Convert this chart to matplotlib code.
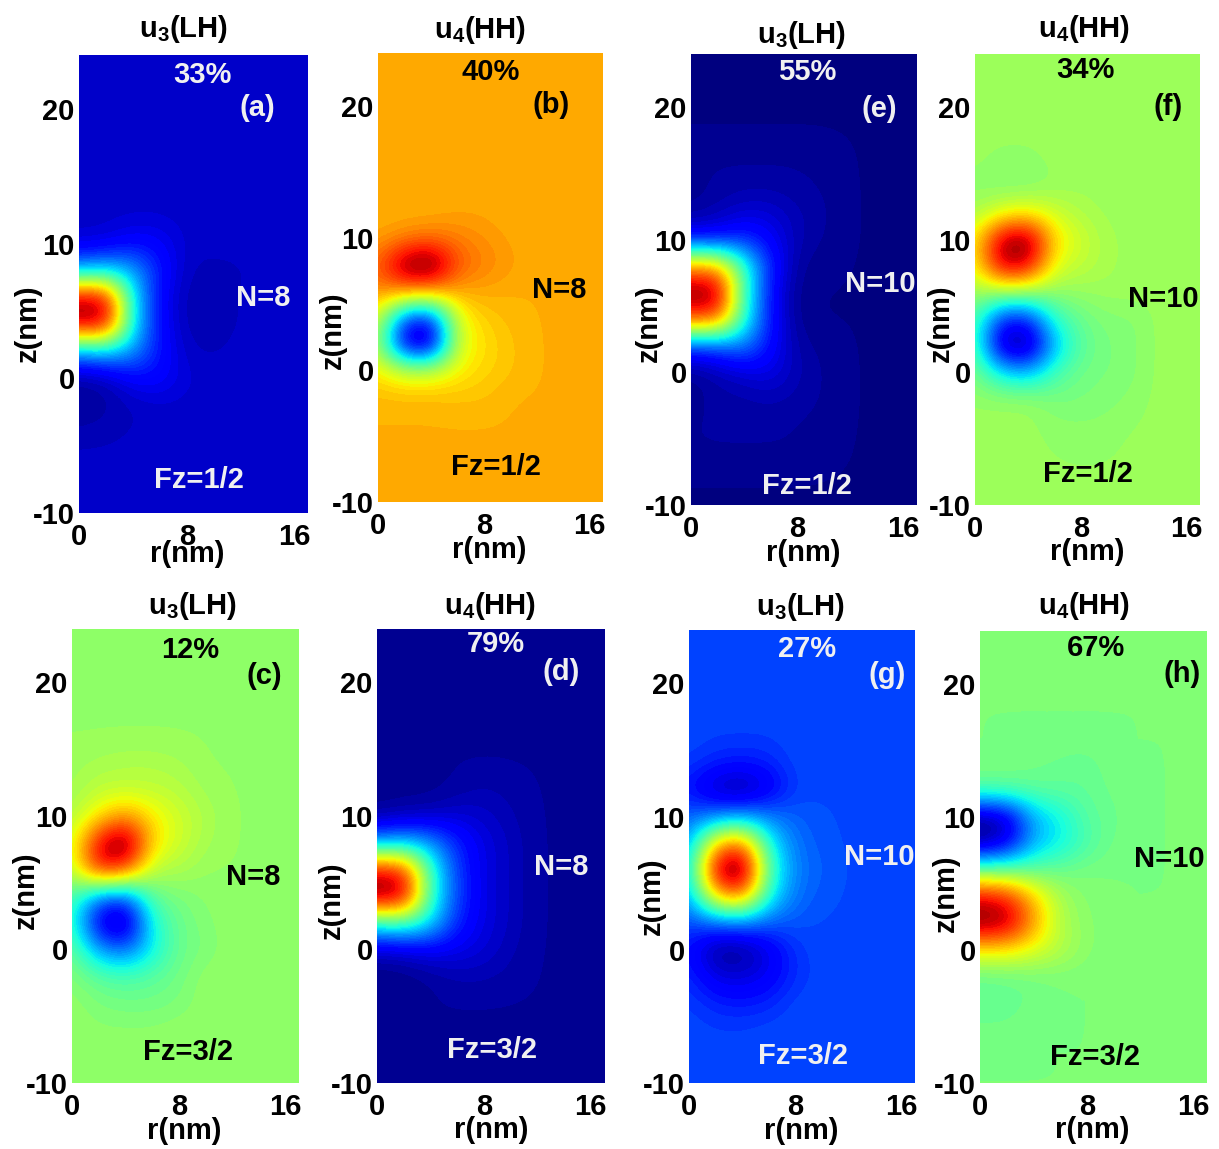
import numpy as np
import matplotlib
matplotlib.use("Agg")
import matplotlib.pyplot as plt

plt.rcParams['font.family'] = ['Liberation Sans', 'DejaVu Sans']
plt.rcParams['font.weight'] = 'bold'
plt.rcParams['mathtext.fontset'] = 'custom'
plt.rcParams['mathtext.bf'] = 'Liberation Sans:bold'
plt.rcParams['mathtext.rm'] = 'Liberation Sans:bold'
plt.rcParams['mathtext.default'] = 'bf'
plt.rcParams['axes.unicode_minus'] = False

W, H = 1219, 1149

r_values = [0, 2, 4, 6, 8, 10, 12]
z_values = [16, 14, 12, 10, 8, 6, 4, 2, 0, -2, -4, -6]
r_ticks = [0, 8, 16]
z_ticks = [-10, 0, 10, 20]

bg_a = 0.07
u_a = [
 [.07,.07,.07,.07,.07,.07,.07],
 [.07,.07,.07,.07,.07,.07,.07],
 [.07,.07,.075,.075,.07,.07,.07],
 [.08,.09,.13,.12,.07,.07,.07],
 [.30,.34,.30,.15,.06,.055,.06],
 [.95,.95,.36,.12,.05,.05,.065],
 [.95,.95,.36,.13,.05,.05,.065],
 [.28,.32,.28,.14,.065,.06,.07],
 [.03,.05,.12,.13,.08,.07,.07],
 [.03,.04,.06,.07,.07,.07,.07],
 [.05,.055,.065,.07,.07,.07,.07],
 [.07,.07,.07,.07,.07,.07,.07],
]
bg_b = 0.72
u_b = [
 [.72,.72,.72,.72,.72,.72,.72],
 [.72,.72,.72,.72,.72,.72,.72],
 [.72,.72,.72,.73,.73,.72,.72],
 [.73,.76,.78,.77,.75,.73,.72],
 [.80,1.0,1.05,.82,.77,.74,.72],
 [.76,.78,.76,.73,.73,.72,.72],
 [.62,.20,.15,.62,.69,.71,.72],
 [.55,.05,.0,.60,.67,.70,.72],
 [.66,.58,.58,.65,.68,.70,.72],
 [.71,.71,.71,.70,.70,.72,.72],
 [.72,.72,.72,.72,.72,.72,.72],
 [.72,.72,.72,.72,.72,.72,.72],
]
bg_e = 0.015
u_e = [
 [.03,.03,.03,.03,.03,.025,.015],
 [.02,.035,.04,.04,.035,.03,.015],
 [.03,.05,.08,.08,.05,.035,.015],
 [.14,.14,.18,.12,.05,.03,.015],
 [.75,.75,.42,.16,.03,.02,.015],
 [1.0,1.0,.42,.13,.02,.015,.015],
 [.82,.82,.40,.14,.02,.015,.015],
 [.18,.20,.26,.13,.04,.025,.015],
 [.02,.05,.08,.10,.05,.03,.015],
 [.02,.04,.04,.05,.04,.03,.015],
 [.03,.035,.035,.035,.03,.025,.015],
 [.03,.03,.03,.03,.03,.02,.015],
]
bg_f = 0.54
u_f = [
 [.54,.52,.52,.54,.54,.54,.54],
 [.52,.51,.51,.53,.54,.54,.54],
 [.55,.62,.65,.60,.56,.54,.54],
 [.65,.97,1.02,.68,.60,.55,.54],
 [.63,.95,.93,.62,.58,.55,.54],
 [.54,.53,.52,.52,.53,.54,.54],
 [.45,.15,.14,.40,.48,.51,.51],
 [.45,.03,.0,.30,.46,.50,.51],
 [.50,.35,.30,.43,.49,.50,.51],
 [.53,.53,.53,.50,.50,.51,.52],
 [.54,.54,.54,.52,.52,.52,.53],
 [.54,.54,.54,.53,.52,.525,.54],
]
bg_c = 0.53
u_c = [
 [.53,.53,.53,.53,.53,.53,.53],
 [.54,.55,.56,.56,.55,.53,.53],
 [.54,.58,.58,.58,.57,.54,.53],
 [.56,.66,.75,.66,.60,.56,.53],
 [.60,.92,1.05,.68,.60,.55,.53],
 [.58,.90,.85,.57,.56,.53,.53],
 [.45,.25,.20,.47,.50,.52,.53],
 [.42,.08,.0,.38,.48,.51,.53],
 [.48,.28,.22,.36,.48,.50,.53],
 [.51,.46,.44,.46,.49,.53,.53],
 [.53,.50,.49,.49,.50,.53,.53],
 [.53,.52,.52,.52,.53,.53,.53],
]
bg_d = 0.03
u_d = [
 [.03,.03,.03,.03,.03,.03,.03],
 [.03,.03,.03,.03,.03,.03,.03],
 [.02,.02,.02,.035,.05,.04,.03],
 [.03,.05,.06,.08,.07,.05,.03],
 [.28,.32,.28,.16,.09,.06,.03],
 [.90,.88,.42,.18,.09,.06,.03],
 [1.0,.98,.42,.19,.09,.06,.03],
 [.40,.44,.35,.16,.09,.06,.03],
 [.07,.08,.11,.10,.08,.05,.03],
 [.01,.015,.03,.05,.05,.04,.03],
 [.02,.02,.03,.03,.03,.03,.03],
 [.03,.03,.03,.03,.03,.03,.03],
]
bg_g = 0.20
u_g = [
 [.20,.19,.19,.19,.20,.20,.20],
 [.19,.16,.15,.16,.20,.20,.20],
 [.14,.05,.02,.09,.19,.20,.20],
 [.22,.24,.27,.25,.22,.205,.20],
 [.28,.70,.80,.38,.24,.21,.20],
 [.33,.96,1.08,.45,.25,.22,.20],
 [.28,.70,.80,.38,.24,.21,.20],
 [.20,.22,.24,.22,.21,.20,.20],
 [.14,.02,.02,.09,.18,.20,.20],
 [.17,.09,.08,.11,.17,.20,.20],
 [.19,.16,.15,.16,.20,.20,.20],
 [.20,.19,.19,.20,.20,.20,.20],
]
bg_h = 0.50
u_h = [
 [.50,.50,.50,.50,.50,.50,.50],
 [.50,.50,.49,.48,.47,.50,.50],
 [.46,.46,.47,.47,.47,.49,.50],
 [.02,.06,.30,.37,.46,.48,.50],
 [.02,.08,.30,.36,.44,.49,.50],
 [.47,.47,.47,.48,.50,.50,.50],
 [.92,.88,.70,.55,.51,.50,.50],
 [1.0,.98,.75,.56,.52,.50,.50],
 [.66,.66,.62,.57,.52,.50,.50],
 [.47,.48,.49,.50,.50,.50,.50],
 [.47,.47,.49,.50,.50,.50,.50],
 [.49,.49,.50,.50,.50,.50,.50],
]

titles = {'u3': r'$\mathbf{u_3(LH)}$', 'u4': r'$\mathbf{u_4(HH)}$'}
light = '#f0f0f0'

# name, field, bg, box(l,t,r,b), title kind, pct, N, Fz, text colour, text centres in px
panels = [
 ('a', u_a, bg_a, (79,55,308,513), 'u3', '33%', 'N=8', 'Fz=1/2', light,
  dict(t=(183,27), p=(202,73), l=(257,106), n=(263,296), f=(199,478), x=(187,552), y=(28,323))),
 ('b', u_b, bg_b, (378,53,603,502), 'u4', '40%', 'N=8', 'Fz=1/2', 'black',
  dict(t=(480,28), p=(491,70), l=(551,103), n=(559,288), f=(496,465), x=(489,548), y=(333,330))),
 ('e', u_e, bg_e, (691,54,917,505), 'u3', '55%', 'N=10', 'Fz=1/2', light,
  dict(t=(801,33), p=(807,70), l=(879,107), n=(880,282), f=(807,484), x=(803,551), y=(649,323))),
 ('f', u_f, bg_f, (975,54,1200,505), 'u4', '34%', 'N=10', 'Fz=1/2', 'black',
  dict(t=(1084,27), p=(1085,68), l=(1168,105), n=(1163,297), f=(1088,472), x=(1087,550), y=(941,323))),
 ('c', u_c, bg_c, (72,629,299,1083), 'u3', '12%', 'N=8', 'Fz=3/2', 'black',
  dict(t=(192,604), p=(190,648), l=(264,674), n=(253,875), f=(188,1050), x=(184,1129), y=(26,890))),
 ('d', u_d, bg_d, (377,629,604,1083), 'u4', '79%', 'N=8', 'Fz=3/2', light,
  dict(t=(490,604), p=(496,642), l=(561,670), n=(561,865), f=(492,1048), x=(491,1128), y=(332,900))),
 ('g', u_g, bg_g, (689,630,915,1083), 'u3', '27%', 'N=10', 'Fz=3/2', light,
  dict(t=(800,605), p=(807,647), l=(887,673), n=(879,855), f=(803,1054), x=(801,1129), y=(652,896))),
 ('h', u_h, bg_h, (980,631,1207,1083), 'u4', '67%', 'N=10', 'Fz=3/2', 'black',
  dict(t=(1084,604), p=(1096,646), l=(1182,672), n=(1169,857), f=(1095,1055), x=(1092,1128), y=(946,893))),
]

cmap = plt.get_cmap('jet', 64)
fig = plt.figure(figsize=(W/100, H/100), dpi=100, facecolor='white')
FS = 21

def put(xy, s, color='black', rotation=0, size=FS):
    dy = 0 if rotation else 2
    fig.text(xy[0]/W, 1-(xy[1]+dy)/H, s, color=color, ha='center', va='center',
             rotation=rotation, fontsize=size, fontweight='bold')

for name, field, bg, box, kind, pct, nlab, fz, col, pos in panels:
    l, t, r, b = box
    ax = fig.add_axes([l/W, 1-b/H, (r-l)/W, (b-t)/H])
    # pad the read-off window with the panel background up to the axes limits
    grid = np.full((20, 11), bg, dtype=float)   # z = 26 ... -12, r = 0 ... 20
    grid[5:17, :7] = np.array(field)
    ax.imshow(grid, cmap=cmap, vmin=0, vmax=1, aspect='auto', origin='upper',
              extent=(-1, 21, -13, 27), interpolation='bicubic')
    ax.set_xlim(0, 17)
    ax.set_ylim(-10, 24)
    ax.set_xticks(r_ticks)
    ax.set_yticks(z_ticks)
    ax.tick_params(length=0, labelsize=FS, pad=3)
    ax.tick_params(axis='x', pad=7)
    for s in ax.spines.values():
        s.set_visible(False)
    put(pos['t'], titles[kind], size=FS)
    put(pos['p'], pct, col)
    put(pos['l'], '(%s)' % name, col)
    put(pos['n'], nlab, col)
    put(pos['f'], fz, col)
    put(pos['x'], 'r(nm)')
    put(pos['y'], 'z(nm)', rotation=90)

fig.savefig('out.png', dpi=100)
